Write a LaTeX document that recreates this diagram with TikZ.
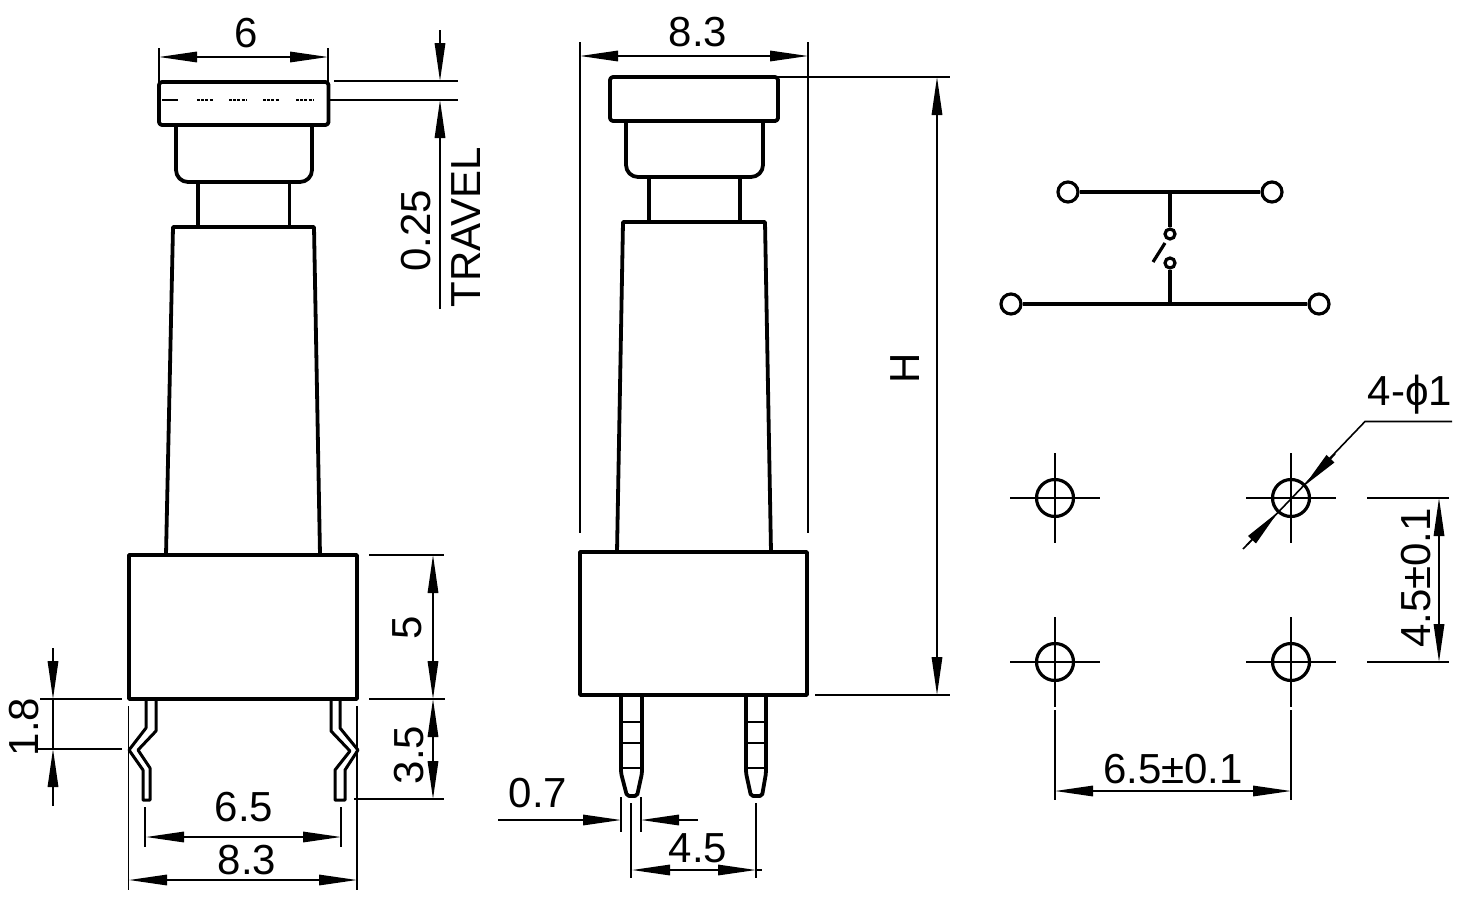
\documentclass[tikz,border=0pt]{standalone}
\usepackage{fontspec}
\setmainfont{Liberation Sans}
\usetikzlibrary{arrows.meta}
\tikzset{
  x=1pt,y=-1pt,
  part/.style={line width=3.8pt,line join=round,black},
  thin part/.style={line width=3pt,line join=round,black},
  dimline/.style={line width=1.6pt,black,>={Stealth[length=38pt,width=10.5pt,inset=0pt]}},
  extline/.style={line width=1.6pt,black},
  label/.style={inner sep=0pt,font=\fontsize{42pt}{42pt}\selectfont},
  vlabel/.style={label,rotate=90},
  wire/.style={line width=3.2pt,black},
  hole/.style={line width=3.2pt,black},
  centre/.style={line width=1.8pt,black}
}
\begin{document}
\begin{tikzpicture}
\useasboundingbox (0,0) rectangle (1466,902);
% ---------- left view ----------
\draw[part,rounded corners=3pt] (159,82) rectangle (328.5,125);
\draw[part,rounded corners=12pt] (176,125) -- (176,182) -- (312,182) -- (312,125);
\draw[part] (198,182) -- (198,226) (289.5,182) -- (289.5,226);
\draw[part] (166,555) -- (173,227) -- (314,227) -- (320,555);
\draw[part] (129,555) rectangle (357,699);
\foreach \a/\b in {197/213,229/246,263/279,296/313}
  \draw[line width=2.4pt,dash pattern=on 3pt off 1.2pt] (\a,100) -- (\b,100);
\draw[line width=2pt] (162,100) -- (178,100);
% left pin
\draw[thin part] (146,699) -- (146,728) -- (129,750) -- (143,770) -- (143,800) -- (150,800) -- (150,768) -- (138,750) -- (156,731) -- (156,699);
% right pin
\draw[thin part] (340,699) -- (340,728) -- (358,750) -- (345,770) -- (345,800) -- (335,800) -- (335,770) -- (350,751) -- (331,731) -- (331,699);
% dim 6
\draw[extline] (159,48) -- (159,82) (328,48) -- (328,82);
\draw[dimline,<->] (159,57) -- (328,57);
\node[label] (d6) at (246,33) {6};
% dim 0.25 travel
\draw[extline] (334,81) -- (458,81) (330,100) -- (458,100);
\draw[dimline,->] (440,30) -- (440,81);
\draw[dimline,->] (440,309) -- (440,100);
\node[vlabel] (d025) at (416,231) {0.25};
\node[vlabel] (dtravel) at (466,227) {TRAVEL};
% dim 5, 3.5
\draw[extline] (369,555) -- (444,555) (369,699) -- (445,699) (354,799) -- (444,799);
\draw[dimline,<->] (433,555) -- (433,699);
\draw[dimline,<->] (433,699) -- (433,799);
\node[vlabel] (d5) at (407,628) {5};
\node[vlabel] (d35) at (409,755) {3.5};
% dim 1.8
\draw[extline] (40,699) -- (122,699) (38,749) -- (122,749);
\draw[dimline,->] (53,648) -- (53,699);
\draw[dimline,->] (53,806) -- (53,749);
\draw[extline] (53,699) -- (53,749);
\node[vlabel] (d18) at (24,727) {1.8};
% dim 6.5, 8.3 bottom
\draw[extline] (145,807) -- (145,847) (341,807) -- (341,847);
\draw[dimline,<->] (146,837) -- (341,837);
\node[label] (d65) at (244,807) {6.5};
\draw[extline] (128.5,706) -- (128.5,890) (357,706) -- (357,890);
\draw[dimline,<->] (129,880) -- (357,880);
\node[label] (d83a) at (247,860) {8.3};
% ---------- middle view ----------
\draw[part,rounded corners=3pt] (610,77) rectangle (778,121);
\draw[part,rounded corners=12pt] (626,121) -- (626,177) -- (763,177) -- (763,121);
\draw[part] (649,177) -- (649,222) (740,177) -- (740,222);
\draw[part] (617,552) -- (623,222) -- (765,222) -- (771,552);
\draw[part] (580,552) rectangle (807,695);
\foreach \l/\r/\bl/\br in {621/642/627/637,746/766/751/762}{
  \draw[part,rounded corners=2pt] (\l,695) -- (\l,773) -- (\bl,796) -- (\br,796) -- (\r,773) -- (\r,695);
  \draw[line width=2.6pt] (\l,722) -- (\r,722) (\l,743) -- (\r,743) (\l,768) -- (\r,768);
}
% dim 8.3 top
\draw[extline] (580,42) -- (580,533) (808,42) -- (808,533);
\draw[dimline,<->] (580,56) -- (808,56);
\node[label] (d83b) at (698,32) {8.3};
% dim H
\draw[extline] (778,77) -- (950,77) (815,695) -- (950,695);
\draw[dimline,<->] (937,77) -- (937,695);
\node[vlabel] (dH) at (905,368) {H};
% dim 0.7
\draw[dimline,->] (498,820) -- (621,820);
\draw[dimline,->] (698,820) -- (641,820);
\draw[extline] (621,797) -- (621,832) (641,797) -- (641,832);
\node[label] (d07) at (538,793) {0.7};
% dim 4.5
\draw[extline] (631,803) -- (631,878) (756,803) -- (756,878);
\draw[dimline,<->] (632,870) -- (756,870);
\draw[extline] (756,870) -- (762,870);
\node[label] (d45) at (698,848) {4.5};
% ---------- schematic ----------
\node[circle,draw,wire,minimum size=20pt,inner sep=0pt] (tl) at (1068,192) {};
\node[circle,draw,wire,minimum size=20pt,inner sep=0pt] (tr) at (1272,192) {};
\node[circle,draw,wire,minimum size=20pt,inner sep=0pt] (bl) at (1011,304) {};
\node[circle,draw,wire,minimum size=20pt,inner sep=0pt] (br) at (1319,304) {};
\node[circle,draw,wire,minimum size=10pt,inner sep=0pt] (s1) at (1170,234) {};
\node[circle,draw,wire,minimum size=10pt,inner sep=0pt] (s2) at (1170,263) {};
\draw[wire] (tl) -- (tr);
\draw[wire] (bl) -- (br);
\coordinate (jt) at (1170,192);
\coordinate (jb) at (1170,304);
\draw[wire] (jt) -- (s1);
\draw[wire] (s2) -- (jb);
\draw[wire] (1153,262) -- (1165,243);
% ---------- footprint ----------
\foreach \n/\cx/\cy in {ha/1055/498,hb/1291/498,hc/1055/662,hd/1291/662}{
  \node[circle,draw,hole,minimum size=37pt,inner sep=0pt] (\n) at (\cx,\cy) {};
  \draw[centre] (\cx-45,\cy) -- (\cx+45,\cy) (\cx,\cy-45) -- (\cx,\cy+45);
}
\draw[extline] (1055,710) -- (1055,800) (1291,710) -- (1291,800);
\draw[dimline,<->] (1055,791) -- (1291,791);
\node[label] (d65t) at (1173,769) {6.5±0.1};
\draw[extline] (1367,498) -- (1449,498) (1367,662) -- (1449,662);
\draw[dimline,<->] (1439,498) -- (1439,662);
\node[vlabel] (d45t) at (1416,578) {4.5±0.1};
% leader
\draw[extline] (1243,549) -- (1365,421.5) -- (1452,421.5);
\draw[dimline,->] (1335,454) -- (1304,486);
\draw[dimline,->] (1247,545) -- (1278,512);
\node[label] (dphi) at (1410,395) {4-ϕ1};
\end{tikzpicture}
\end{document}
